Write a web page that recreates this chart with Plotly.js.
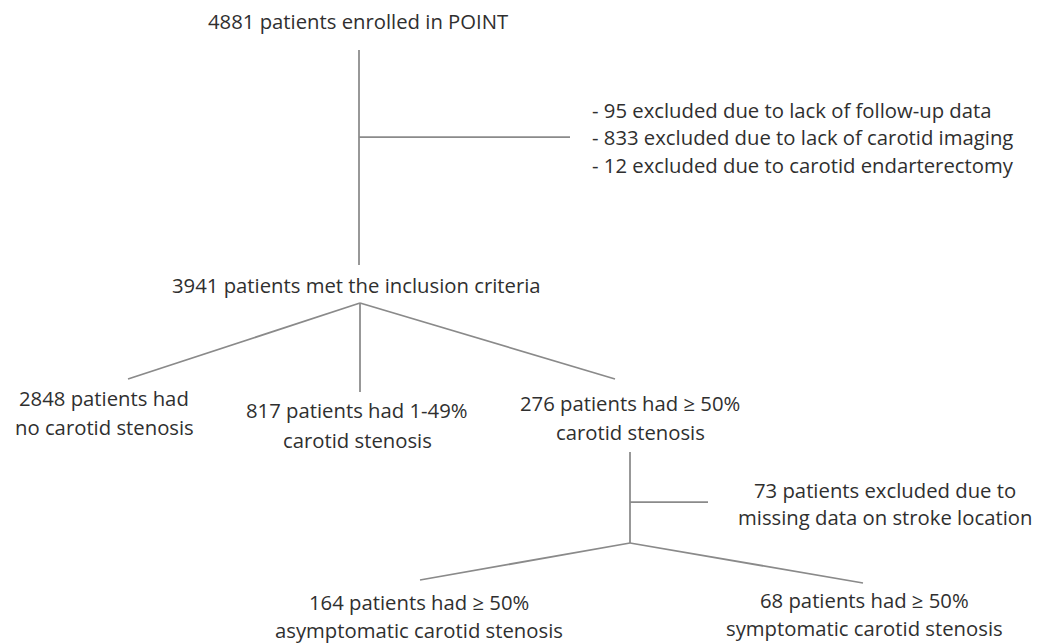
<!DOCTYPE html>
<html>
<head>
<meta charset="utf-8">
<script src="https://cdn.plot.ly/plotly-3.0.1.min.js"></script>
<style>
html,body{margin:0;padding:0;background:#fff;}
#chart{width:1045px;height:644px;}
</style>
</head>
<body>
<div id="chart"></div>
<script>
// ---- Data (counts) ----
const enrolledCount = 4881;
const trialName = "POINT";
const exclusionCounts = [95, 833, 12];
const exclusionReasons = ["lack of follow-up data", "lack of carotid imaging", "carotid endarterectomy"];
const includedCount = 3941;
const stenosisCounts = [2848, 817, 276];
const stenosisLabels = [["patients had", "no carotid stenosis"], ["patients had 1-49%", "carotid stenosis"], ["patients had \u2265 50%", "carotid stenosis"]];
const missingLocationCount = 73;
const severeCounts = [164, 68];
const severeLabels = ["asymptomatic carotid stenosis", "symptomatic carotid stenosis"];

// ---- Layout of the diagram (pixel canvas) ----
const W = 1045, H = 644;
const FONT = {family: "'Open Sans', Lato, sans-serif", size: 20.3, color: "#2f2f2f"};
const LINE = {color: "#8a8a8a", width: 1.75};

// node anchor positions (layout only)
const pos = {
  enrolled: [358, 21],
  exclusionX: 590, exclusionY: [110, 137, 165],
  included: [356, 285],
  groups: [[104, 398, 427], [357, 410, 440], [630, 403, 432]],
  missing: [885, 490, 517],
  severe: [[419, 602, 630], [864, 600, 628]]
};

const annotations = [];
function label(text, x, y, anchor) {
  annotations.push({text: text, x: x, y: y, xref: "x", yref: "y", showarrow: false,
    xanchor: anchor || "center", yanchor: "middle", font: FONT});
}

label(enrolledCount + " patients enrolled in " + trialName, pos.enrolled[0], pos.enrolled[1]);
exclusionCounts.forEach((n, i) => label("- " + n + " excluded due to " + exclusionReasons[i], pos.exclusionX, pos.exclusionY[i], "left"));
label(includedCount + " patients met the inclusion criteria", pos.included[0], pos.included[1]);
stenosisCounts.forEach((n, i) => {
  const p = pos.groups[i];
  label(n + " " + stenosisLabels[i][0], p[0], p[1]);
  label(stenosisLabels[i][1], p[0], p[2]);
});
label(missingLocationCount + " patients excluded due to", pos.missing[0], pos.missing[1]);
label("missing data on stroke location", pos.missing[0], pos.missing[2]);
severeCounts.forEach((n, i) => {
  const p = pos.severe[i];
  label(n + " patients had \u2265 50%", p[0], p[1]);
  label(severeLabels[i], p[0], p[2]);
});

// connectors
const connectors = [
  [359, 50, 359, 265],
  [359, 137, 570, 137],
  [360, 303, 128, 379],
  [360, 303, 360, 392],
  [360, 303, 615, 379],
  [630, 452, 630, 543],
  [630, 502, 708, 502],
  [630, 543, 420, 580],
  [630, 543, 863, 583]
];
const shapes = connectors.map(c => ({type: "line", xref: "x", yref: "y", x0: c[0], y0: c[1], x1: c[2], y1: c[3], line: LINE}));

const layout = {
  width: W, height: H,
  margin: {l: 0, r: 0, t: 0, b: 0},
  paper_bgcolor: "#ffffff", plot_bgcolor: "#ffffff",
  xaxis: {range: [0, W], visible: false, fixedrange: true},
  yaxis: {range: [H, 0], visible: false, fixedrange: true},
  showlegend: false,
  annotations: annotations,
  shapes: shapes
};

Plotly.newPlot("chart", [], layout, {displayModeBar: false, staticPlot: true});
</script>
</body>
</html>
